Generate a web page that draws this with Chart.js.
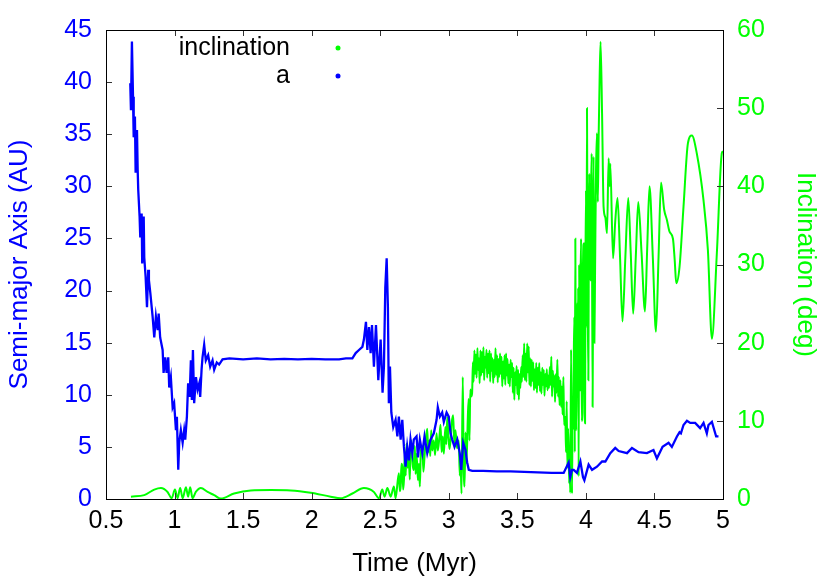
<!DOCTYPE html>
<html>
<head>
<meta charset="utf-8">
<script src="https://cdn.jsdelivr.net/npm/chart.js@4/dist/chart.umd.min.js"></script>
<style>
  html, body { margin: 0; padding: 0; background: #fff; }
  #wrap { width: 830px; height: 581px; }
</style>
</head>
<body>
<div id="wrap"><canvas id="orbitChart"></canvas></div>
<script>
// semi-major axis (AU) vs time (Myr)
const aTime = [0.677, 0.682, 0.689, 0.697, 0.702, 0.711, 0.716, 0.726, 0.731, 0.735, 0.745, 0.750, 0.760, 0.764, 0.775, 0.779, 0.789,
  0.799, 0.808, 0.813, 0.823, 0.840, 0.852, 0.864, 0.877, 0.884, 0.895, 0.913, 0.920, 0.932, 0.942, 0.954, 0.961, 0.973, 0.986, 0.997,
  1.010, 1.017, 1.027, 1.034, 1.046, 1.059, 1.070, 1.078, 1.090, 1.099, 1.110, 1.119, 1.126, 1.134, 1.143, 1.156, 1.168, 1.180, 1.187,
  1.197, 1.204, 1.216, 1.228, 1.245, 1.260, 1.277, 1.289, 1.308, 1.325, 1.350, 1.40, 1.50, 1.60, 1.70, 1.80, 1.90, 2.00, 2.10, 2.20,
  2.25, 2.297, 2.321, 2.345, 2.370, 2.381, 2.396, 2.406, 2.418, 2.430, 2.440, 2.454, 2.469, 2.486, 2.503, 2.517, 2.527, 2.537, 2.547,
  2.556, 2.563, 2.571, 2.581, 2.595, 2.612, 2.625, 2.636, 2.649, 2.661, 2.673, 2.685, 2.697, 2.709, 2.721, 2.734, 2.745, 2.765, 2.775,
  2.789, 2.807, 2.823, 2.843, 2.867, 2.891, 2.911, 2.920, 2.935, 2.952, 2.964, 2.984, 3.000, 3.013, 3.025, 3.042, 3.062, 3.080, 3.091,
  3.105, 3.122, 3.134, 3.146, 3.171, 3.25, 3.35, 3.45, 3.55, 3.65, 3.75, 3.838, 3.874, 3.886, 3.899, 3.911, 3.935, 3.960, 3.979, 3.989,
  4.020, 4.045, 4.081, 4.118, 4.142, 4.178, 4.214, 4.239, 4.300, 4.336, 4.384, 4.445, 4.493, 4.518, 4.555, 4.559, 4.603, 4.627, 4.664,
  4.683, 4.693, 4.712, 4.737, 4.761, 4.797, 4.833, 4.858, 4.882, 4.894, 4.919, 4.950, 4.967, 4.999];
const aValues = [39.9, 37.3, 43.9, 38.6, 34.7, 36.7, 31.3, 35.4, 31.6, 29.7, 27.1, 25.1, 27.4, 22.6, 27.1, 23.2, 21.3,
  18.4, 22.0, 21.0, 19.8, 17.5, 15.5, 17.5, 16.2, 17.8, 15.5, 14.3, 12.1, 13.6, 12.1, 13.6, 10.7, 11.7, 8.8, 9.2,
  6.6, 7.9, 2.8, 5.4, 6.6, 5.4, 6.6, 5.7, 7.9, 11.1, 9.8, 13.3, 9.5, 14.3, 9.2, 11.7, 10.5, 11.1, 9.8,
  12.4, 13.6, 14.8, 13.3, 13.8, 12.7, 13.3, 12.4, 13.1, 12.9, 13.4, 13.5, 13.4, 13.5, 13.4, 13.45, 13.4, 13.45, 13.4, 13.4,
  13.5, 13.5, 14.0, 14.3, 14.6, 15.3, 17.0, 14.3, 16.5, 14.0, 16.7, 12.7, 16.7, 11.4, 15.3, 10.2, 12.7, 20.3, 23.1,
  18.4, 9.2, 12.7, 8.3, 6.9, 7.6, 6.0, 7.9, 5.7, 7.6, 5.0, 3.1, 5.0, 3.7, 5.7, 4.4, 5.7, 6.0, 4.0,
  5.7, 4.4, 6.0, 4.4, 5.7, 6.3, 7.6, 8.8, 7.9, 8.3, 7.4, 8.3, 7.9, 6.3, 5.7, 5.0, 5.7, 4.4, 2.8,
  5.4, 4.7, 3.5, 2.8, 2.7, 2.7, 2.65, 2.65, 2.6, 2.55, 2.5, 2.5, 3.5, 2.1, 2.8, 2.8, 2.5, 3.6, 2.1,
  1.8, 3.3, 2.8, 3.1, 3.6, 3.6, 4.4, 4.9, 4.6, 4.4, 4.9, 4.5, 4.4, 4.7, 3.9, 4.9, 5.0, 5.4, 5.0,
  6.0, 6.4, 6.3, 7.1, 7.5, 7.3, 7.3, 6.8, 7.3, 6.3, 7.1, 7.4, 6.0, 6.0];

// inclination (deg) vs time (Myr)
const incTime = [0.682, 0.779, 0.852, 0.901, 0.949, 0.979, 1.003, 1.022, 1.041, 1.059, 1.083, 1.099, 1.114, 1.131, 1.155, 1.192,
  1.241, 1.289, 1.338, 1.434, 1.556, 1.702, 1.847, 1.993, 2.139, 2.212, 2.297, 2.381, 2.454, 2.491, 2.515, 2.532, 2.552, 2.576, 2.600,
  2.612, 2.636, 2.643, 2.649, 2.655, 2.661, 2.667, 2.673, 2.680, 2.686, 2.692, 2.700, 2.709, 2.716, 2.721, 2.727, 2.736, 2.745, 2.752,
  2.758, 2.765, 2.775, 2.782, 2.789, 2.796, 2.807, 2.815, 2.823, 2.833, 2.843, 2.850, 2.858, 2.865, 2.872, 2.880, 2.891, 2.900, 2.911,
  2.920, 2.932, 2.940, 2.948, 2.956, 2.964, 2.975, 2.982, 2.989, 2.996, 3.005, 3.013, 3.022, 3.032, 3.040, 3.049, 3.060, 3.073, 3.080,
  3.086, 3.093, 3.102, 3.108, 3.115, 3.122, 3.129, 3.139, 3.145, 3.151, 3.157, 3.163, 3.170,
  3.176, 3.181, 3.187, 3.192, 3.198, 3.203, 3.209, 3.214, 3.220, 3.225, 3.231, 3.236, 3.242, 3.247, 3.253, 3.258, 3.264, 3.269, 3.275,
  3.280, 3.286, 3.291, 3.297, 3.302, 3.308, 3.313, 3.319, 3.324, 3.330, 3.335, 3.341, 3.346, 3.352, 3.357, 3.363, 3.368, 3.374, 3.379,
  3.385, 3.390, 3.396, 3.401, 3.407, 3.412, 3.418, 3.423, 3.429, 3.434, 3.440, 3.445, 3.451, 3.456, 3.462, 3.467, 3.473, 3.478, 3.484,
  3.489, 3.495, 3.500, 3.506, 3.511, 3.517, 3.522, 3.528, 3.533, 3.539, 3.544, 3.550, 3.555, 3.561, 3.566, 3.572, 3.577, 3.583, 3.588,
  3.594, 3.599, 3.605, 3.610, 3.616, 3.621, 3.627, 3.632, 3.638, 3.643, 3.649, 3.654, 3.660, 3.665, 3.671, 3.676, 3.682, 3.687, 3.693,
  3.698, 3.704, 3.709, 3.715, 3.720, 3.726, 3.731, 3.737, 3.742, 3.748, 3.753, 3.759, 3.764, 3.770, 3.775, 3.781, 3.786, 3.792, 3.797,
  3.803, 3.808, 3.814, 3.819, 3.825, 3.830, 3.836, 3.841, 3.850, 3.855, 3.860, 3.865, 3.870, 3.874, 3.878, 3.882, 3.886, 3.892,
  3.899, 3.903, 3.906, 3.911, 3.916, 3.919, 3.923, 3.927, 3.930, 3.935, 3.940, 3.944, 3.947, 3.951, 3.955, 3.960, 3.965, 3.969, 3.974,
  3.979, 3.984, 3.989, 3.994, 3.997, 4.001, 4.004, 4.008, 4.013, 4.018, 4.022, 4.025, 4.032, 4.037, 4.042, 4.049, 4.053, 4.056, 4.062,
  4.067, 4.074, 4.081, 4.087, 4.093, 4.100, 4.107, 4.118,
  4.129, 4.142, 4.154, 4.166, 4.173, 4.178, 4.198, 4.214, 4.231, 4.249, 4.267, 4.288, 4.309, 4.327, 4.345, 4.364, 4.382, 4.406, 4.431,
  4.447, 4.464, 4.488, 4.511, 4.530, 4.548, 4.571, 4.591, 4.610, 4.635, 4.648, 4.659, 4.683, 4.712, 4.744, 4.773, 4.809, 4.858, 4.890,
  4.919, 4.955, 4.991, 5.0];
const incValues = [0.3, 0.5, 1.2, 1.4, 0.9, 0.1, 1.2, 0.1, 1.4, 0.1, 1.5, 0.3, 1.5, 0.1, 0.9, 1.4,
  0.9, 0.5, 0.05, 0.7, 1.1, 1.15, 1.1, 0.8, 0.3, 0.1, 0.7, 1.4, 0.9, 0.1, 1.2, 0.3, 1.4, 0.3, 1.6,
  0.1, 3.3, 1.0, 1.6, 4.5, 4.1, 1.2, 2.4, 6.0, 3.0, 7.1, 4.0, 5.0, 2.5, 7.0, 7.5, 4.5, 3.7, 6.8,
  3.2, 5.8, 2.4, 4.5, 1.6, 6.0, 6.7, 3.5, 5.4, 7.8, 9.0, 6.0, 7.5, 5.5, 8.8, 6.2, 7.5, 5.6, 8.4,
  6.2, 8.0, 9.5, 6.0, 8.0, 5.8, 9.2, 7.0, 10.5, 8.5, 6.4, 7.5, 9.8, 10.7, 7.2, 8.8, 6.5, 7.5, 3.0,
  4.6, 0.7, 15.6, 5.0, 1.6, 8.5, 4.6, 10.5, 12.8, 7.5, 14.0, 13.1, 13.5,
  17.5, 15.0, 19.0, 16.0, 18.5, 15.5, 19.3, 16.5, 18.0, 14.8, 19.0, 15.8, 18.8, 16.2, 19.4, 15.2, 18.2, 16.8, 19.1,
  15.5, 18.6, 16.1, 19.0, 15.0, 18.6, 16.4, 18.0, 14.8, 17.8, 15.6, 19.3, 15.9, 18.4, 14.9, 17.9, 15.6, 18.6, 16.0,
  18.2, 14.4, 17.6, 15.4, 18.4, 14.6, 18.6, 15.8, 17.9, 14.8, 17.2, 14.4, 17.8, 15.6, 17.4, 13.6, 16.8, 12.7, 16.2,
  14.6, 17.0, 13.4, 16.5, 12.7, 16.0, 14.2, 16.9, 15.0, 18.4, 15.6, 19.9, 15.2, 18.6, 15.0, 19.9, 16.2, 19.5, 14.6,
  18.0, 14.4, 17.8, 15.1, 17.5, 13.9, 16.6, 14.2, 17.4, 13.6, 16.8, 14.6, 17.4, 13.8, 16.2, 13.5, 16.8, 14.6, 16.5,
  13.2, 16.0, 14.4, 16.6, 13.9, 15.8, 14.2, 16.9, 14.6, 18.2, 13.1, 16.4, 14.4, 15.8, 12.4, 16.0, 13.6, 17.8, 13.1,
  15.6, 12.0, 15.2, 11.8, 14.4, 10.8, 15.6, 9.5, 10.5, 6.0, 12.5, 4.0, 9.0, 6.7, 2.0, 4.6, 0.8, 19.1,
  0.7, 12.0, 8.8, 17.0, 23.3, 6.0, 33.3, 12.0, 8.8, 25.0, 18.2, 27.0, 2.9, 30.0, 13.9, 26.0, 33.3, 10.0, 11.0,
  30.0, 32.7, 14.0, 9.7, 30.0, 39.5, 22.0, 50.0, 26.0, 15.2, 36.0, 41.6, 28.0, 38.0, 44.2, 11.8, 30.0, 43.8, 20.0,
  29.3, 42.1, 46.8, 38.0, 46.3, 53.6, 58.5, 49.3,
  37.4, 36.0, 34.0, 43.6, 40.0, 42.9, 30.8, 35.5, 38.5, 31.0, 22.7, 31.0, 38.5, 31.5, 23.7, 31.0, 38.0, 31.5, 24.0,
  32.0, 40.0, 31.0, 21.4, 31.0, 40.5, 37.0, 35.7, 34.2, 33.3, 30.5, 27.6, 29.7, 37.4, 45.5, 46.5, 44.2, 38.2, 31.8,
  20.5, 31.4, 44.2, 44.5];

const BLUE = '#0000ff';
const GREEN = '#00ff00';
const FAMILY = '"Liberation Sans", Arial, sans-serif';
const TICK_FONT = { family: FAMILY, size: 25 };
const TITLE_FONT = { family: FAMILY, size: 26 };

function pairs(xs, ys) {
  return xs.map((x, i) => ({ x: x, y: ys[i] }));
}

// gnuplot style: inward tics and a full frame
const frameTicks = {
  id: 'frameTicks',
  afterDatasetsDraw(chart) {
    const ctx = chart.ctx;
    const area = chart.chartArea;
    const len = 6;
    ctx.save();
    ctx.strokeStyle = '#333';
    ctx.lineWidth = 1;
    ctx.beginPath();
    chart.scales.x.ticks.forEach(t => {
      const px = Math.round(chart.scales.x.getPixelForValue(t.value)) + 0.5;
      ctx.moveTo(px, area.bottom); ctx.lineTo(px, area.bottom - len);
      ctx.moveTo(px, area.top); ctx.lineTo(px, area.top + len);
    });
    chart.scales.y.ticks.forEach(t => {
      const py = Math.round(chart.scales.y.getPixelForValue(t.value)) + 0.5;
      ctx.moveTo(area.left, py); ctx.lineTo(area.left + len, py);
    });
    chart.scales.y1.ticks.forEach(t => {
      const py = Math.round(chart.scales.y1.getPixelForValue(t.value)) + 0.5;
      ctx.moveTo(area.right, py); ctx.lineTo(area.right - len, py);
    });
    ctx.stroke();
    ctx.strokeStyle = '#000';
    ctx.strokeRect(Math.round(area.left) + 0.5, Math.round(area.top) + 0.5,
      Math.round(area.right - area.left), Math.round(area.bottom - area.top));
    ctx.restore();
  }
};

// key in the top left: label right-aligned, sample dot to its right
const keyBox = {
  id: 'keyBox',
  afterDraw(chart) {
    const ctx = chart.ctx;
    const area = chart.chartArea;
    const textRight = area.left + 184;
    const dotX = area.left + 232;
    const rows = [
      { label: 'inclination', color: GREEN, y: area.top + 18 },
      { label: 'a', color: BLUE, y: area.top + 46 }
    ];
    ctx.save();
    ctx.font = TICK_FONT.size + 'px ' + FAMILY;
    ctx.textAlign = 'right';
    ctx.textBaseline = 'middle';
    rows.forEach(r => {
      ctx.fillStyle = '#000';
      ctx.fillText(r.label, textRight, r.y);
      ctx.fillStyle = r.color;
      ctx.beginPath();
      ctx.arc(dotX, r.y, 2.5, 0, Math.PI * 2);
      ctx.fill();
    });
    ctx.restore();
  }
};

document.addEventListener('DOMContentLoaded', function () {
  const config = {
    type: 'line',
    data: {
      datasets: [
        {
          label: 'a',
          data: pairs(aTime, aValues),
          yAxisID: 'y',
          borderColor: BLUE,
          borderWidth: 2.3,
          pointRadius: 0,
          tension: 0
        },
        {
          label: 'inclination',
          data: pairs(incTime, incValues),
          yAxisID: 'y1',
          borderColor: GREEN,
          borderWidth: 2,
          pointRadius: 0,
          cubicInterpolationMode: 'monotone'
        }
      ]
    },
    options: {
      responsive: true,
      maintainAspectRatio: false,
      animation: false,
      layout: { padding: { top: 30, left: 0, right: 0, bottom: 0 } },
      plugins: {
        legend: { display: false },
        tooltip: { enabled: false }
      },
      scales: {
        x: {
          type: 'linear',
          min: 0.5,
          max: 5,
          afterFit: s => { s.height = 82; },
          grid: { drawOnChartArea: false, drawTicks: false },
          border: { display: false },
          ticks: {
            stepSize: 0.5,
            color: '#000',
            font: TICK_FONT,
            padding: 7,
            callback: v => String(Math.round(v * 10) / 10)
          },
          title: { display: true, text: 'Time (Myr)', color: '#000', font: TITLE_FONT, padding: { top: 2, bottom: 2 } }
        },
        y: {
          position: 'left',
          min: 0,
          max: 45,
          afterFit: s => { s.width = 106; },
          grid: { drawOnChartArea: false, drawTicks: false },
          border: { display: false },
          ticks: { stepSize: 5, color: BLUE, font: TICK_FONT, padding: 14 },
          title: { display: true, text: 'Semi-major Axis (AU)', color: BLUE, font: TITLE_FONT, padding: { top: 4, bottom: 4 } }
        },
        y1: {
          position: 'right',
          min: 0,
          max: 60,
          afterFit: s => { s.width = 107; },
          grid: { drawOnChartArea: false, drawTicks: false },
          border: { display: false },
          ticks: { stepSize: 10, color: GREEN, font: TICK_FONT, padding: 14 },
          title: { display: true, text: 'Inclination (deg)', color: GREEN, font: TITLE_FONT, padding: { top: 9, bottom: 9 } }
        }
      }
    },
    plugins: [frameTicks, keyBox]
  };

  const orbitChart = new Chart(document.getElementById('orbitChart'), config);
});
</script>
</body>
</html>
